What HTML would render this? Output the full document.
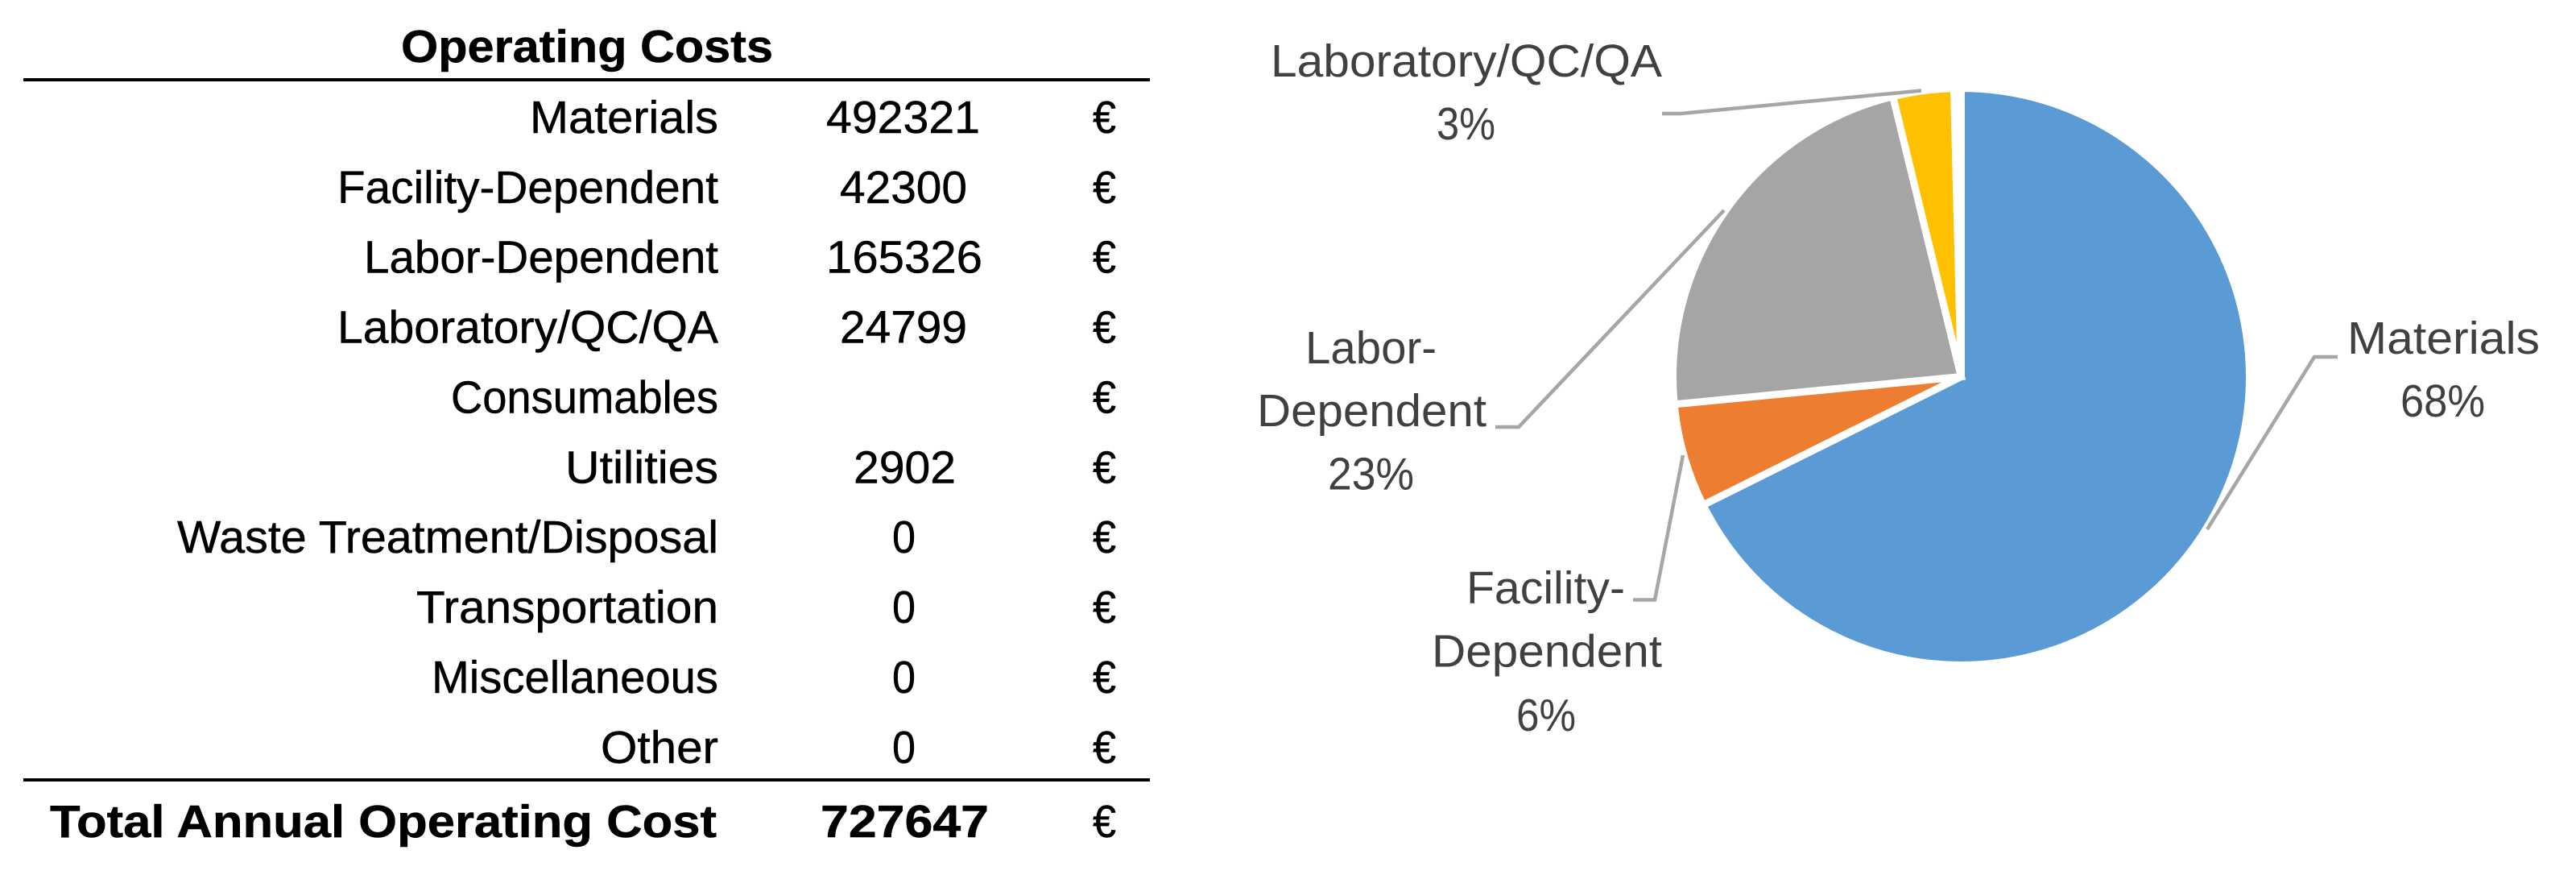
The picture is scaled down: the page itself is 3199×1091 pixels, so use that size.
<!DOCTYPE html>
<html lang="en">
<head>
<meta charset="utf-8">
<title>Operating Costs</title>
<style>
html,body{margin:0;padding:0;background:#fff;width:3199px;height:1091px;overflow:hidden}
svg{display:block}
text{font-family:"Liberation Sans",sans-serif;font-size:57px}
.tbl{fill:#000;stroke:#000;stroke-width:.5px}
.bold{font-weight:bold}
.lbl{fill:#404040}
.leader{fill:none;stroke:#a6a6a6;stroke-width:4.5}
.rule{stroke:#000;stroke-width:4}
</style>
</head>
<body>
<svg xmlns="http://www.w3.org/2000/svg" width="3199" height="1091" viewBox="0 0 3199 1091">
  <rect x="0" y="0" width="3199" height="1091" fill="#fff"/>

  <g>
    <text class="tbl bold" x="498" y="77" textLength="462" lengthAdjust="spacingAndGlyphs">Operating Costs</text>
    <line class="rule" x1="29" y1="99" x2="1428" y2="99"/>

    <text class="tbl" x="658" y="165" textLength="234" lengthAdjust="spacingAndGlyphs">Materials</text>
    <text class="tbl" x="1026" y="165" textLength="191" lengthAdjust="spacingAndGlyphs">492321</text>
    <text class="tbl" x="1357" y="165" textLength="29" lengthAdjust="spacingAndGlyphs">€</text>

    <text class="tbl" x="419" y="252" textLength="473" lengthAdjust="spacingAndGlyphs">Facility-Dependent</text>
    <text class="tbl" x="1043" y="252" textLength="158" lengthAdjust="spacingAndGlyphs">42300</text>
    <text class="tbl" x="1357" y="252" textLength="29" lengthAdjust="spacingAndGlyphs">€</text>

    <text class="tbl" x="452" y="338.5" textLength="440" lengthAdjust="spacingAndGlyphs">Labor-Dependent</text>
    <text class="tbl" x="1026" y="338.5" textLength="194" lengthAdjust="spacingAndGlyphs">165326</text>
    <text class="tbl" x="1357" y="338.5" textLength="29" lengthAdjust="spacingAndGlyphs">€</text>

    <text class="tbl" x="419" y="425.5" textLength="473" lengthAdjust="spacingAndGlyphs">Laboratory/QC/QA</text>
    <text class="tbl" x="1043" y="425.5" textLength="158" lengthAdjust="spacingAndGlyphs">24799</text>
    <text class="tbl" x="1357" y="425.5" textLength="29" lengthAdjust="spacingAndGlyphs">€</text>

    <text class="tbl" x="560" y="512.5" textLength="332" lengthAdjust="spacingAndGlyphs">Consumables</text>
    <text class="tbl" x="1357" y="512.5" textLength="29" lengthAdjust="spacingAndGlyphs">€</text>

    <text class="tbl" x="702" y="599.5" textLength="190" lengthAdjust="spacingAndGlyphs">Utilities</text>
    <text class="tbl" x="1060" y="599.5" textLength="127" lengthAdjust="spacingAndGlyphs">2902</text>
    <text class="tbl" x="1357" y="599.5" textLength="29" lengthAdjust="spacingAndGlyphs">€</text>

    <text class="tbl" x="220" y="686" textLength="672" lengthAdjust="spacingAndGlyphs">Waste Treatment/Disposal</text>
    <text class="tbl" x="1108" y="686" textLength="29" lengthAdjust="spacingAndGlyphs">0</text>
    <text class="tbl" x="1357" y="686" textLength="29" lengthAdjust="spacingAndGlyphs">€</text>

    <text class="tbl" x="517" y="773" textLength="375" lengthAdjust="spacingAndGlyphs">Transportation</text>
    <text class="tbl" x="1108" y="773" textLength="29" lengthAdjust="spacingAndGlyphs">0</text>
    <text class="tbl" x="1357" y="773" textLength="29" lengthAdjust="spacingAndGlyphs">€</text>

    <text class="tbl" x="536" y="860" textLength="356" lengthAdjust="spacingAndGlyphs">Miscellaneous</text>
    <text class="tbl" x="1108" y="860" textLength="29" lengthAdjust="spacingAndGlyphs">0</text>
    <text class="tbl" x="1357" y="860" textLength="29" lengthAdjust="spacingAndGlyphs">€</text>

    <text class="tbl" x="746" y="947" textLength="146" lengthAdjust="spacingAndGlyphs">Other</text>
    <text class="tbl" x="1108" y="947" textLength="29" lengthAdjust="spacingAndGlyphs">0</text>
    <text class="tbl" x="1357" y="947" textLength="29" lengthAdjust="spacingAndGlyphs">€</text>

    <line class="rule" x1="29" y1="968" x2="1428" y2="968"/>

    <text class="tbl bold" x="62" y="1039" textLength="828" lengthAdjust="spacingAndGlyphs">Total Annual Operating Cost</text>
    <text class="tbl bold" x="1019" y="1039" textLength="209" lengthAdjust="spacingAndGlyphs">727647</text>
    <text class="tbl" x="1357" y="1039" textLength="29" lengthAdjust="spacingAndGlyphs">€</text>
  </g>

  <g id="pie-slices"></g>

  <g>
    <polyline class="leader" points="2903,443 2874,443 2741,657"/>
    <polyline class="leader" points="2028,744.5 2055,744.5 2090,565"/>
    <polyline class="leader" points="1857,530 1886,530 2141,261"/>
    <polyline class="leader" points="2064,141 2087,141 2386,112.5"/>
  </g>

  <g>
    <text class="lbl" x="2915" y="439" textLength="239" lengthAdjust="spacingAndGlyphs">Materials</text>
    <text class="lbl pct" x="2981" y="517" textLength="105" lengthAdjust="spacingAndGlyphs">68%</text>

    <text class="lbl" x="1821" y="749" textLength="197" lengthAdjust="spacingAndGlyphs">Facility-</text>
    <text class="lbl" x="1778" y="827.5" textLength="286" lengthAdjust="spacingAndGlyphs">Dependent</text>
    <text class="lbl pct" x="1883" y="907" textLength="74" lengthAdjust="spacingAndGlyphs">6%</text>

    <text class="lbl" x="1621" y="451" textLength="163" lengthAdjust="spacingAndGlyphs">Labor-</text>
    <text class="lbl" x="1561" y="529" textLength="285" lengthAdjust="spacingAndGlyphs">Dependent</text>
    <text class="lbl pct" x="1649" y="607.5" textLength="107" lengthAdjust="spacingAndGlyphs">23%</text>

    <text class="lbl" x="1578" y="95" textLength="486" lengthAdjust="spacingAndGlyphs">Laboratory/QC/QA</text>
    <text class="lbl pct" x="1784" y="173" textLength="73" lengthAdjust="spacingAndGlyphs">3%</text>
  </g>
</svg>
<script>
var categories = ["Materials", "Facility-Dependent", "Labor-Dependent", "Laboratory/QC/QA", "Utilities"];
var costValues = [492321, 42300, 165326, 24799, 2902];
var sliceColors = ["#5b9bd5", "#ed7d31", "#a5a5a5", "#ffc000", "#ffffff"];

var CX = 2435.5, CY = 467.5, R = 358, GAP = 9;

function total() {
  return costValues.reduce(function (a, b) { return a + b; }, 0);
}
function valueToAngle(v) {
  return v / total() * Math.PI * 2;
}
function polar(angle) {
  return [CX + R * Math.sin(angle), CY - R * Math.cos(angle)];
}

var pie = document.getElementById("pie-slices");
var running = 0;
costValues.forEach(function (value, i) {
  var a0 = valueToAngle(running);
  var a1 = valueToAngle(running + value);
  running += value;
  var p0 = polar(a0);
  var p1 = polar(a1);
  var large = a1 - a0 > Math.PI ? 1 : 0;
  var path = document.createElementNS("http://www.w3.org/2000/svg", "path");
  path.setAttribute("d", "M" + CX + " " + CY + "L" + p0[0] + " " + p0[1] + "A" + R + " " + R + " 0 " + large + " 1 " + p1[0] + " " + p1[1] + "Z");
  path.setAttribute("fill", sliceColors[i]);
  path.setAttribute("stroke", "#ffffff");
  path.setAttribute("stroke-width", GAP);
  path.setAttribute("stroke-linejoin", "miter");
  
  
  pie.appendChild(path);
});

var percentNodes = document.querySelectorAll(".pct");
var percentOrder = [0, 1, 2, 3];
percentNodes.forEach(function (node, i) {
  node.textContent = Math.round(costValues[percentOrder[i]] / total() * 100) + "%";
});
</script>
</body>
</html>
